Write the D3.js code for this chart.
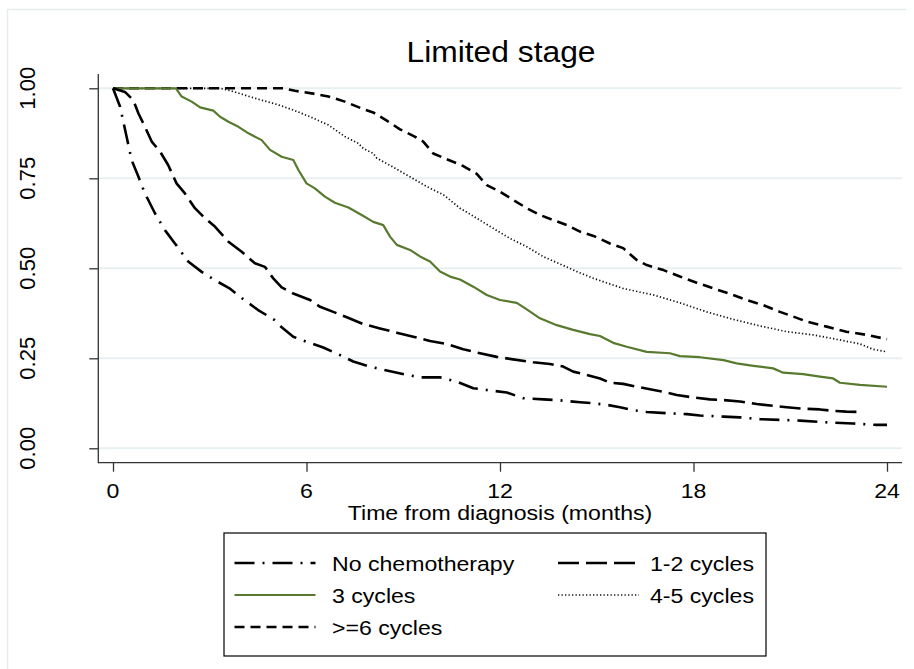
<!DOCTYPE html>
<html>
<head>
<meta charset="utf-8">
<script src="https://cdn.jsdelivr.net/npm/d3@7"></script>
<style>
  html, body { margin: 0; padding: 0; background: #ffffff; }
  svg { display: block; font-family: "Liberation Sans", Arial, Helvetica, sans-serif; }
</style>
</head>
<body>
<svg id="chart" width="914" height="669"></svg>
<script>
// Kaplan-Meier survival estimates, limited stage, by number of chemotherapy cycles
const titleText = "Limited stage";
const xLabel = "Time from diagnosis (months)";
const xTicks = [0, 6, 12, 18, 24];
const yTicks = [0, 0.25, 0.5, 0.75, 1];

const noChemoTime = [0, 0.22, 0.42, 0.58, 0.79, 0.99, 1.30, 1.61, 1.92, 2.34, 2.75, 3.16, 3.6, 4.0, 4.5, 5.0, 5.23, 5.59, 6.0, 6.52, 7.04, 7.45, 7.97, 8.49, 9.11, 9.53, 10.14, 10.66, 11.17, 11.59, 12.21, 12.73, 13.35, 13.76, 14.48, 14.9, 15.36, 15.72, 16.13, 16.55, 17.27, 17.8, 18.2, 18.93, 19.44, 20.06, 20.68, 21.3, 22.33, 22.95, 23.68, 24.0];
const noChemoSurv = [1, 0.949, 0.866, 0.80, 0.754, 0.708, 0.653, 0.606, 0.569, 0.518, 0.49, 0.467, 0.445, 0.417, 0.384, 0.357, 0.336, 0.31, 0.296, 0.28, 0.259, 0.241, 0.227, 0.216, 0.204, 0.197, 0.197, 0.185, 0.167, 0.162, 0.155, 0.139, 0.136, 0.134, 0.128, 0.125, 0.12, 0.114, 0.106, 0.101, 0.097, 0.095, 0.091, 0.088, 0.086, 0.081, 0.079, 0.077, 0.071, 0.069, 0.065, 0.065];

const cyc12Time = [0, 0.37, 0.63, 0.79, 0.99, 1.2, 1.46, 1.71, 1.97, 2.23, 2.54, 2.85, 3.16, 3.58, 3.99, 4.4, 4.71, 4.97, 5.23, 5.59, 6.11, 6.42, 6.83, 7.25, 7.76, 8.28, 8.8, 9.31, 9.83, 10.35, 10.86, 11.38, 11.9, 12.41, 13.03, 13.55, 13.96, 14.27, 14.69, 15.1, 15.41, 15.82, 16.24, 16.65, 17.07, 17.48, 18.0, 18.51, 18.93, 19.44, 19.96, 20.47, 20.89, 21.4, 21.92, 22.33, 22.74, 23.18];
const cyc12Surv = [1, 0.99, 0.967, 0.93, 0.893, 0.852, 0.824, 0.787, 0.736, 0.708, 0.667, 0.639, 0.616, 0.574, 0.546, 0.514, 0.504, 0.472, 0.447, 0.43, 0.412, 0.393, 0.379, 0.364, 0.345, 0.333, 0.321, 0.31, 0.298, 0.29, 0.275, 0.264, 0.254, 0.247, 0.239, 0.234, 0.227, 0.213, 0.204, 0.194, 0.182, 0.179, 0.171, 0.164, 0.157, 0.148, 0.141, 0.136, 0.134, 0.13, 0.123, 0.118, 0.114, 0.11, 0.108, 0.104, 0.102, 0.101];

const cyc3Time = [0, 1.95, 2.13, 2.44, 2.7, 3.11, 3.32, 3.58, 3.89, 4.2, 4.61, 4.87, 5.23, 5.59, 5.75, 6.0, 6.26, 6.57, 6.88, 7.3, 7.71, 8.07, 8.38, 8.59, 8.8, 9.21, 9.52, 9.83, 10.14, 10.45, 10.76, 11.17, 11.59, 12.0, 12.52, 12.83, 13.24, 13.76, 14.27, 14.79, 15.1, 15.51, 15.93, 16.55, 17.27, 17.58, 18.2, 18.93, 19.34, 19.86, 20.47, 20.78, 21.4, 21.92, 22.33, 22.54, 23.16, 24.0];
const cyc3Surv = [1, 1, 0.977, 0.963, 0.947, 0.938, 0.921, 0.907, 0.893, 0.875, 0.856, 0.829, 0.81, 0.801, 0.773, 0.736, 0.722, 0.699, 0.682, 0.669, 0.648, 0.629, 0.62, 0.588, 0.565, 0.551, 0.533, 0.519, 0.491, 0.477, 0.469, 0.449, 0.426, 0.412, 0.404, 0.386, 0.361, 0.342, 0.329, 0.317, 0.312, 0.293, 0.282, 0.268, 0.264, 0.256, 0.253, 0.245, 0.236, 0.229, 0.222, 0.21, 0.206, 0.199, 0.194, 0.182, 0.176, 0.171];

const cyc45Time = [0, 3.3, 3.58, 4.09, 4.61, 5.13, 5.64, 6.16, 6.68, 7.19, 7.61, 7.76, 8.07, 8.18, 8.69, 9.21, 9.73, 10.25, 10.76, 11.28, 11.79, 12.31, 12.83, 13.35, 13.86, 14.38, 14.9, 15.36, 15.82, 16.75, 17.58, 18.41, 19.24, 20.06, 20.89, 21.71, 22.54, 23.16, 23.57, 24.0];
const cyc45Surv = [1, 1, 0.995, 0.981, 0.967, 0.954, 0.938, 0.919, 0.898, 0.866, 0.847, 0.833, 0.819, 0.806, 0.781, 0.754, 0.727, 0.704, 0.667, 0.639, 0.611, 0.583, 0.56, 0.532, 0.512, 0.491, 0.472, 0.458, 0.444, 0.426, 0.404, 0.379, 0.358, 0.34, 0.324, 0.315, 0.301, 0.29, 0.275, 0.268];

const cyc6Time = [0, 5.3, 5.64, 6.16, 6.68, 7.19, 7.71, 8.07, 8.49, 8.9, 9.31, 9.62, 9.93, 10.35, 10.86, 11.28, 11.59, 12.0, 12.41, 12.83, 13.24, 13.65, 14.07, 14.48, 14.9, 15.41, 15.82, 16.24, 16.55, 17.07, 17.58, 18.1, 18.62, 19.13, 19.65, 20.16, 20.68, 21.09, 21.51, 22.13, 22.74, 23.37, 24.0];
const cyc6Surv = [1, 1, 0.993, 0.986, 0.977, 0.963, 0.944, 0.933, 0.91, 0.886, 0.868, 0.852, 0.819, 0.803, 0.784, 0.762, 0.731, 0.713, 0.69, 0.667, 0.648, 0.634, 0.62, 0.602, 0.59, 0.569, 0.556, 0.523, 0.509, 0.495, 0.477, 0.46, 0.444, 0.429, 0.412, 0.398, 0.379, 0.366, 0.352, 0.338, 0.324, 0.315, 0.303];

const seriesNames = ["No chemotherapy", "1-2 cycles", "3 cycles", "4-5 cycles", ">=6 cycles"];

// ---- styling of each curve ----
const GREEN = "#587a2f";
const styles = {
  "No chemotherapy": { color: "#000", width: 2.6, dash: "20,8,2,8" },
  "1-2 cycles":      { color: "#000", width: 2.6, dash: "21,7" },
  "3 cycles":        { color: GREEN,  width: 2.2, dash: null },
  "4-5 cycles":      { color: "#111", width: 1.7, dash: "1.3,2.2" },
  ">=6 cycles":      { color: "#000", width: 2.6, dash: "10,6" }
};

const series = [
  { name: seriesNames[0], t: noChemoTime, s: noChemoSurv },
  { name: seriesNames[1], t: cyc12Time, s: cyc12Surv },
  { name: seriesNames[2], t: cyc3Time, s: cyc3Surv },
  { name: seriesNames[3], t: cyc45Time, s: cyc45Surv },
  { name: seriesNames[4], t: cyc6Time, s: cyc6Surv }
];

const svg = d3.select("#chart");
const FONT = '"Liberation Sans", Arial, Helvetica, sans-serif';
const AXIS = "#333";
const GRID = "#e8eff1";

// outer graph region edge
svg.append("line").attr("x1", 7).attr("x2", 906).attr("y1", 9.5).attr("y2", 9.5)
  .attr("stroke", "#e6eded").attr("stroke-width", 1.5);
svg.append("line").attr("x1", 7.5).attr("x2", 7.5).attr("y1", 9).attr("y2", 669)
  .attr("stroke", "#e6eded").attr("stroke-width", 1.5);

// scales
const x = d3.scaleLinear().domain([0, 24]).range([113, 887]);
const y = d3.scaleLinear().domain([0, 1]).range([448.3, 88.3]);
const plotLeft = 98.3, plotRight = 902, plotTop = 74, plotBottom = 462.7;

// horizontal grid lines
svg.append("g").selectAll("line").data(yTicks).join("line")
  .attr("x1", plotLeft).attr("x2", plotRight)
  .attr("y1", d => y(d)).attr("y2", d => y(d))
  .attr("stroke", GRID).attr("stroke-width", 2);

// axes (ticks from d3, axis lines drawn across the whole plot region)
const gy = svg.append("g").attr("transform", `translate(${plotLeft},0)`)
  .call(d3.axisLeft(y).tickValues(yTicks).tickSize(9).tickSizeOuter(0).tickFormat(""));
gy.select(".domain").remove();
gy.selectAll(".tick line").attr("stroke", AXIS).attr("stroke-width", 1.3);

const gx = svg.append("g").attr("transform", `translate(0,${plotBottom})`)
  .call(d3.axisBottom(x).tickValues(xTicks).tickSize(9).tickSizeOuter(0).tickFormat(""));
gx.select(".domain").remove();
gx.selectAll(".tick line").attr("stroke", AXIS).attr("stroke-width", 1.3);

svg.append("line").attr("x1", plotLeft).attr("x2", plotLeft)
  .attr("y1", plotTop).attr("y2", plotBottom + 0.6)
  .attr("stroke", AXIS).attr("stroke-width", 1.3);
svg.append("line").attr("x1", plotLeft).attr("x2", plotRight)
  .attr("y1", plotBottom).attr("y2", plotBottom)
  .attr("stroke", AXIS).attr("stroke-width", 1.3);

// text helper: slightly widened glyphs
function label(g, px, py, txt, size, anchor, sx) {
  return g.append("text")
    .attr("transform", `translate(${px},${py}) scale(${sx},1)`)
    .attr("text-anchor", anchor)
    .attr("font-family", FONT)
    .attr("font-size", size)
    .attr("fill", "#000")
    .text(txt);
}

// y tick labels, rotated
svg.append("g").selectAll("text").data(yTicks).join("text")
  .attr("transform", d => `translate(35,${y(d)}) rotate(-90)`)
  .attr("text-anchor", "middle")
  .attr("font-family", FONT).attr("font-size", 22).attr("fill", "#000")
  .text(d => d3.format(".2f")(d));

// x tick labels
const xl = svg.append("g");
xTicks.forEach(d => label(xl, x(d), 498, String(d), 21, "middle", 1.1));

// axis title and chart title
label(svg, 500, 519.5, xLabel, 21, "middle", 1.1);
label(svg, 501, 62, titleText, 30, "middle", 1.06);

// survival curves
const line = d3.line()
  .x(d => x(d[0]))
  .y(d => y(d[1]))
  .curve(d3.curveLinear);

const drawOrder = [4, 3, 2, 1, 0];
const gCurves = svg.append("g");
drawOrder.forEach(i => {
  const sr = series[i];
  const st = styles[sr.name];
  const pts = sr.t.map((t, k) => [t, sr.s[k]]);
  gCurves.append("path")
    .attr("d", line(pts))
    .attr("fill", "none")
    .attr("stroke", st.color)
    .attr("stroke-width", st.width)
    .attr("stroke-dasharray", st.dash)
    .attr("stroke-linejoin", "round");
});

// legend
const lg = svg.append("g");
lg.append("rect").attr("x", 224).attr("y", 533).attr("width", 542).attr("height", 123)
  .attr("fill", "#fff").attr("stroke", "#000").attr("stroke-width", 1.2);

const legendLayout = [
  { name: seriesNames[0], col: 0, row: 0 },
  { name: seriesNames[1], col: 1, row: 0 },
  { name: seriesNames[2], col: 0, row: 1 },
  { name: seriesNames[3], col: 1, row: 1 },
  { name: seriesNames[4], col: 0, row: 2 }
];
const colSym = [234.5, 558];
const colText = [332, 650];
const rowY = [563, 595, 627];
legendLayout.forEach(it => {
  const st = styles[it.name];
  const yy = rowY[it.row];
  lg.append("line")
    .attr("x1", colSym[it.col]).attr("x2", colSym[it.col] + 81)
    .attr("y1", yy).attr("y2", yy)
    .attr("stroke", st.color)
    .attr("stroke-width", st.name === "4-5 cycles" ? 1.3 : st.width)
    .attr("stroke-dasharray", st.dash);
  label(lg, colText[it.col], yy + 7.5, it.name, 21, "start", 1.1);
});
</script>
</body>
</html>
